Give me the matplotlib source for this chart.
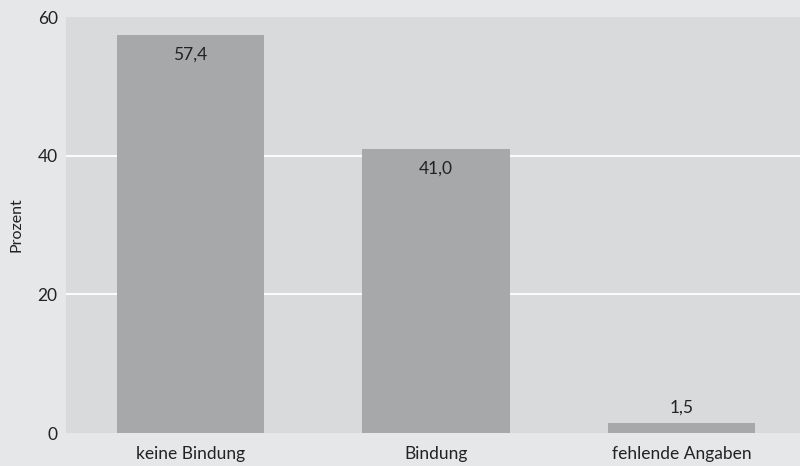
import matplotlib.pyplot as plt
import numpy as np

# data
categories = ["keine Bindung", "Bindung", "fehlende Angaben"]
values = [57.4, 41.0, 1.5]
value_labels = ["57,4", "41,0", "1,5"]
y_ticks = [0, 20, 40, 60]
grid_lines = [20, 40]

plt.rcParams['font.family'] = ['Lato', 'DejaVu Sans']

fig = plt.figure(figsize=(8, 4.66), dpi=100)
fig.patch.set_facecolor("#e6e7e8")
ax = fig.add_axes([66 / 800, 33 / 466, 734 / 800, 416 / 466])
ax.set_facecolor("#d9dadb")

# white grid lines only between bottom and top edge
for g in grid_lines:
    ax.axhline(g, color="white", linewidth=1.3, zorder=1)

x = np.arange(len(categories))
ax.bar(x, values, width=0.6, color="#a7a8aa", zorder=2)

# value labels: inside the tall bars, above the short one
for xi, v, lab in zip(x, values, value_labels):
    off = -14 if v > 10 else 11
    ax.annotate(lab, (xi, v), xytext=(0, off), textcoords="offset points",
                ha="center", va="center", fontsize=12.5, color="#222222")

ax.set_xlim(-0.507, 2.483)
ax.set_ylim(0, 60)
ax.set_yticks(y_ticks)
ax.set_xticks(x)
ax.set_xticklabels(categories)
ax.tick_params(axis="x", length=0, labelsize=12.5, colors="#222222", pad=9)
ax.tick_params(axis="y", length=0, labelsize=12.5, colors="#222222", pad=6)
for s in ax.spines.values():
    s.set_visible(False)

ax.set_ylabel("Prozent", fontsize=11.5, color="#222222", labelpad=10)

fig.savefig("out.png", dpi=100, facecolor=fig.get_facecolor())
